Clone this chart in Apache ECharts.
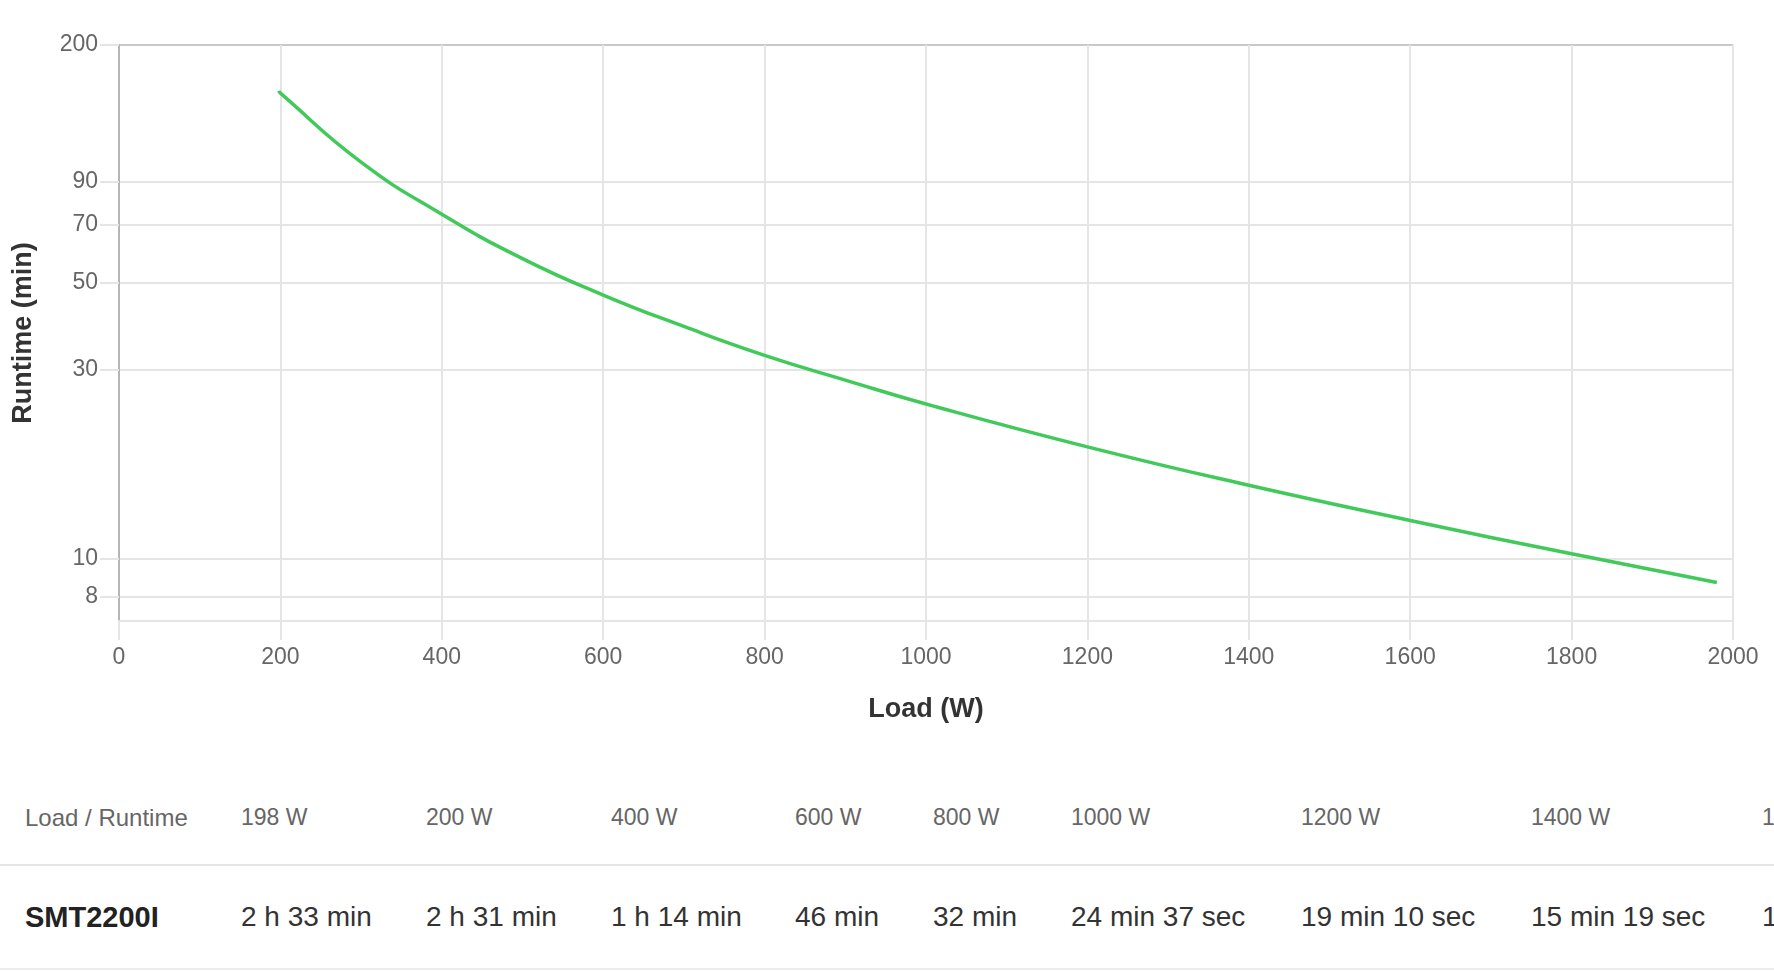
<!DOCTYPE html>
<html>
<head>
<meta charset="utf-8">
<title>SMT2200I runtime</title>
<script src="https://cdn.jsdelivr.net/npm/echarts@6/dist/echarts.min.js"></script>
<style>
html, body {
  margin: 0;
  padding: 0;
  width: 1774px;
  height: 972px;
  overflow: hidden;
  background: #fff;
  font-family: "Liberation Sans", Arial, Helvetica, sans-serif;
}
#chart {
  position: absolute;
  left: 0;
  top: 0;
  width: 1774px;
  height: 740px;
}
.cell {
  position: absolute;
  white-space: nowrap;
}
.head {
  top: 806px;
  font-size: 23px;
  line-height: 23px;
  color: #666;
}
.first {
  font-size: 24px;
}
.val {
  top: 903px;
  font-size: 28px;
  line-height: 28px;
  color: #333;
}
.model {
  font-size: 29px;
  font-weight: bold;
  color: #222;
}
.rule {
  position: absolute;
  left: 0;
  width: 1774px;
  height: 2px;
  background: #e6e6e6;
}
</style>
</head>
<body>
<div id="chart"></div>
<div id="table"></div>
<script>
// runtime curve (load in W, runtime in minutes)
const loads = [198, 200, 300, 400, 500, 600, 700, 800, 900, 1000, 1200, 1400, 1600, 1800, 1980]
const runtimes = [153, 151, 101, 74.5, 57.5, 46.5, 38.7, 32.7, 28.3, 24.62, 19.17, 15.32, 12.48, 10.27, 8.69]
const yTicks = [8, 10, 30, 50, 70, 90, 200]

// table below the chart
const modelName = 'SMT2200I'
const tableLoads = ['198 W', '200 W', '400 W', '600 W', '800 W', '1000 W', '1200 W', '1400 W', '1600 W']
const tableRuntimes = ['2 h 33 min', '2 h 31 min', '1 h 14 min', '46 min', '32 min', '24 min 37 sec', '19 min 10 sec', '15 min 19 sec', '12 min 29 sec']

const font = '"Liberation Sans", Arial, Helvetica, sans-serif'
const gridColor = '#e5e5e5'

const chart = echarts.init(document.getElementById('chart'))
chart.setOption({
  animation: false,
  grid: {
    left: 119,
    right: 41,
    top: 45,
    bottom: 119
  },
  xAxis: {
    type: 'value',
    min: 0,
    max: 2000,
    interval: 200,
    name: 'Load (W)',
    nameLocation: 'middle',
    nameGap: 75,
    nameTextStyle: { fontSize: 27, fontWeight: 'bold', color: '#333', fontFamily: font },
    axisLine: { show: true, lineStyle: { color: gridColor, width: 2 } },
    axisTick: { show: true, length: 19, lineStyle: { color: gridColor, width: 2 } },
    axisLabel: {
      fontSize: 23,
      color: '#666',
      margin: 25,
      fontFamily: font,
      formatter: function(v) {
        return String(v)
      }
    },
    splitLine: { show: true, lineStyle: { color: gridColor, width: 2 } }
  },
  yAxis: {
    type: 'log',
    logBase: 10,
    min: 6.94,
    max: 200,
    name: 'Runtime (min)',
    nameLocation: 'middle',
    nameGap: 82,
    nameRotate: 90,
    nameTextStyle: { fontSize: 27, fontWeight: 'bold', color: '#333', fontFamily: font },
    axisLine: { show: true, lineStyle: { color: '#b5b5b5', width: 2 } },
    axisTick: { show: true, length: 19, customValues: yTicks, lineStyle: { color: gridColor, width: 2 } },
    axisLabel: { customValues: yTicks, fontSize: 23, color: '#666', margin: 21, fontFamily: font, padding: [8, 0, 0, 0] },
    splitLine: {
      show: true,
      lineStyle: {
        color: [gridColor, gridColor, gridColor, gridColor, gridColor, gridColor, '#c8c8c8'],
        width: 2
      }
    }
  },
  series: [
    {
      name: modelName,
      type: 'line',
      data: loads.map((x, i) => [x, runtimes[i]]),
      smooth: 0.5,
      showSymbol: false,
      lineStyle: { color: '#41c95a', width: 3.5 },
      itemStyle: { color: '#41c95a' }
    }
  ]
})

// table columns (left edge of each column, px)
const colLeft = [25, 241, 426, 611, 795, 933, 1071, 1301, 1531, 1762]
let html = ''
html += '<div class="cell head first" style="left:' + colLeft[0] + 'px">Load / Runtime</div>'
html += '<div class="cell val model" style="left:' + colLeft[0] + 'px">' + modelName + '</div>'
tableLoads.forEach(function(t, i) {
  html += '<div class="cell head" style="left:' + colLeft[i + 1] + 'px">' + t + '</div>'
  html += '<div class="cell val" style="left:' + colLeft[i + 1] + 'px">' + tableRuntimes[i] + '</div>'
})
html += '<div class="rule" style="top:864px"></div>'
html += '<div class="rule" style="top:968px;background:#ededed"></div>'
document.getElementById('table').innerHTML = html
</script>
</body>
</html>
